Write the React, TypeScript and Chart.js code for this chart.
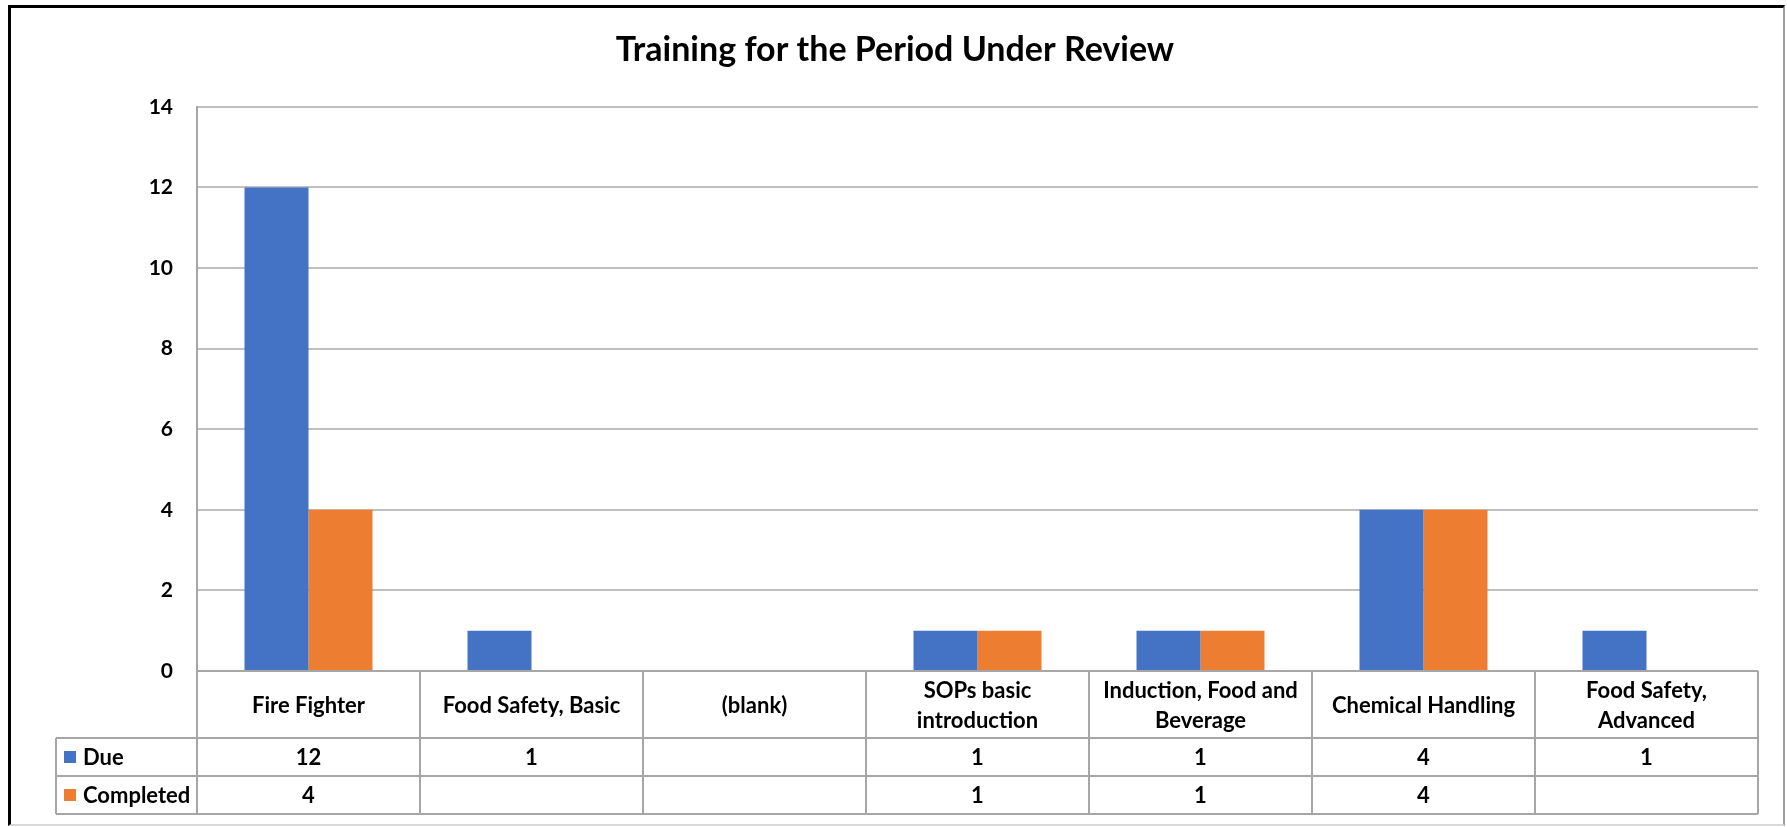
import React, { useEffect, useRef } from 'react';
import { Chart, registerables } from 'chart.js';

Chart.register(...registerables);

const TITLE = 'Training for the Period Under Review';
const CATEGORY_LINES: string[][] = [
  ['Fire Fighter'],
  ['Food Safety, Basic'],
  ['(blank)'],
  ['SOPs basic', 'introduction'],
  ['Induction, Food and', 'Beverage'],
  ['Chemical Handling'],
  ['Food Safety,', 'Advanced'],
];
const DUE: (number | null)[] = [12, 1, null, 1, 1, 4, 1];
const COMPLETED: (number | null)[] = [4, null, null, 1, 1, 4, null];
const SERIES_NAMES = ['Due', 'Completed'];
const Y_MIN = 0;
const Y_MAX = 14;
const Y_STEP = 2;

const BLUE = '#4472C4';
const ORANGE = '#ED7D31';
const FONT = 'Lato';

const W = 1787;
const H = 827;

const dataTablePlugin = {
  id: 'dataTable',
  afterDraw(chart: any) {
    const { ctx, chartArea } = chart;
    const x = chart.scales.x;
    const labels = chart.data.labels as string[][];
    const n = labels.length;
    const colW = (chartArea.right - chartArea.left) / n;
    const top = chartArea.bottom;
    const hdrH = 67;
    const rowH = 38;
    const legendLeft = 56;
    const bottom = top + hdrH + rowH * 2;

    ctx.save();
    ctx.strokeStyle = '#a6a6a6';
    ctx.lineWidth = 2;
    ctx.beginPath();
    ctx.moveTo(chartArea.left, top);
    ctx.lineTo(chartArea.right, top);
    for (let r = 1; r <= 3; r++) {
      const yy = top + hdrH + rowH * (r - 1);
      ctx.moveTo(legendLeft, yy);
      ctx.lineTo(chartArea.right, yy);
    }
    for (let i = 0; i <= n; i++) {
      const xx = chartArea.left + i * colW;
      ctx.moveTo(xx, top);
      ctx.lineTo(xx, bottom);
    }
    ctx.moveTo(legendLeft, top + hdrH);
    ctx.lineTo(legendLeft, bottom);
    ctx.stroke();

    ctx.fillStyle = '#000';
    ctx.textAlign = 'center';
    ctx.textBaseline = 'middle';
    ctx.font = `bold 22px ${FONT}`;
    const lh = 30;
    for (let i = 0; i < n; i++) {
      const cx = x.getPixelForValue(i);
      const lines = labels[i];
      const cy = top + hdrH / 2 + 1;
      lines.forEach((ln, k) => {
        ctx.fillText(ln, cx, cy + (k - (lines.length - 1) / 2) * lh);
      });
    }

    chart.data.datasets.forEach((ds: any, r: number) => {
      const cy = top + hdrH + rowH * r + rowH / 2 + 1;
      ctx.fillStyle = ds.backgroundColor;
      ctx.fillRect(64, cy - 7, 12, 12);
      ctx.fillStyle = '#000';
      ctx.textAlign = 'left';
      ctx.fillText(ds.label, 83, cy);
      ctx.textAlign = 'center';
      ds.data.forEach((v: number | null, i: number) => {
        if (v === null || v === undefined) return;
        ctx.fillText(String(v), x.getPixelForValue(i), cy);
      });
    });
    ctx.restore();
  },
};

export default function App() {
  const ref = useRef<HTMLCanvasElement | null>(null);

  useEffect(() => {
    if (!ref.current) return;
    const chart = new Chart(ref.current, {
      type: 'bar',
      data: {
        labels: CATEGORY_LINES,
        datasets: [
          {
            label: SERIES_NAMES[0],
            data: DUE,
            backgroundColor: BLUE,
            categoryPercentage: 0.574,
            barPercentage: 1,
          },
          {
            label: SERIES_NAMES[1],
            data: COMPLETED,
            backgroundColor: ORANGE,
            categoryPercentage: 0.574,
            barPercentage: 1,
          },
        ],
      },
      options: {
        responsive: false,
        animation: false,
        layout: { padding: { left: 32, right: 29, top: 0, bottom: 156 } },
        plugins: {
          legend: { display: false },
          tooltip: { enabled: false },
          title: {
            display: true,
            text: TITLE,
            color: '#000',
            font: { family: FONT, size: 34, weight: 'bold' },
            padding: { top: 30, bottom: 36 },
          },
        },
        scales: {
          x: {
            display: false,
            offset: true,
            grid: { display: false },
          },
          y: {
            min: Y_MIN,
            max: Y_MAX,
            afterFit: (s: any) => {
              s.width = 165;
            },
            ticks: {
              stepSize: Y_STEP,
              padding: 24,
              color: '#000',
              font: { family: FONT, size: 21, weight: 'bold' },
            },
            grid: { color: '#bfbfbf', lineWidth: 2, drawTicks: false },
            border: { display: true, color: '#a6a6a6', width: 2 },
          },
        },
      },
      plugins: [dataTablePlugin],
    });
    return () => chart.destroy();
  }, []);

  return (
    <div>
      <canvas
        ref={ref}
        width={W}
        height={H}
        style={{ position: 'absolute', left: 0, top: 0, width: W, height: H }}
      />
      <div
        style={{
          position: 'absolute',
          left: 8,
          top: 5,
          width: 1777,
          height: 821,
          boxSizing: 'border-box',
          borderTop: '3px solid #000',
          borderLeft: '3px solid #000',
          borderRight: '2px solid #a0a0a0',
          borderBottom: '2px solid #d9d9d9',
          pointerEvents: 'none',
        }}
      />
    </div>
  );
}
